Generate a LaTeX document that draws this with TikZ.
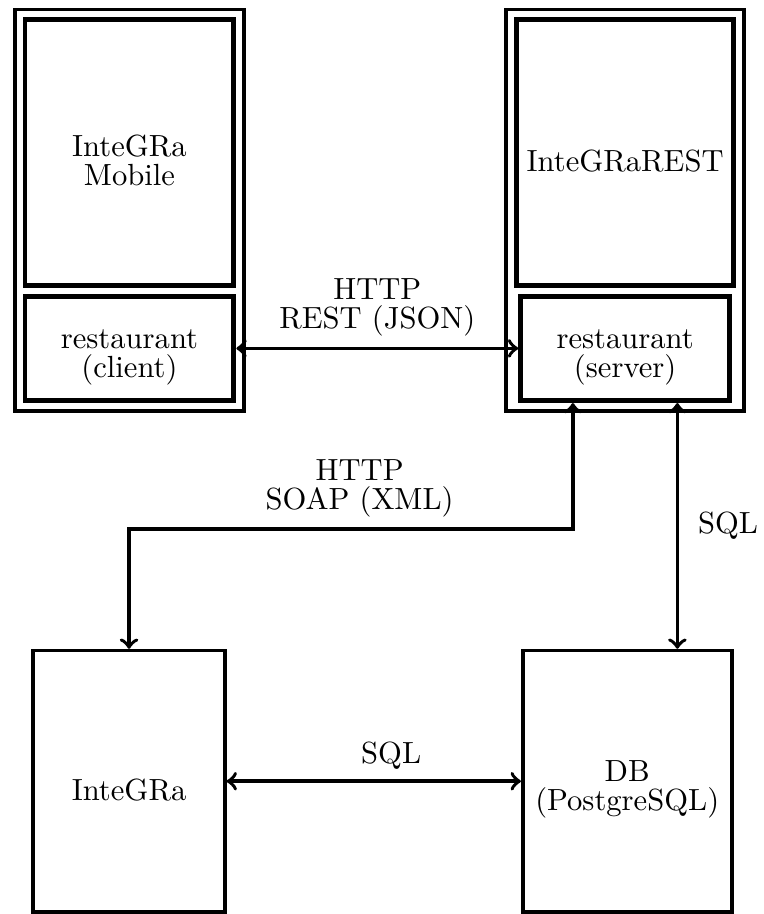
\documentclass[tikz,border=0pt]{standalone}
\usepackage{tikz}
\usetikzlibrary{arrows,positioning,fit}
\tikzset{part/.style={draw, line width=1.6pt, minimum width=2.4cm, align=center, text height=13pt}}
\tikzset{twolines/.style={text height=21.5pt}}
\tikzset{app/.style={draw, line width=1.2pt, inner sep=2.5pt}}
\tikzset{link/.style={<->, line width=1.2pt}}

\begin{document}
\begin{tikzpicture}
                \useasboundingbox (0,0) rectangle (8.764,-10.498);

                % mobile application
                \node[part, twolines, minimum height=3.05cm] (mobile) at (1.487,-1.75) {InteGRa\\[-2.5pt]Mobile};
                \node[part, twolines, minimum height=1.2cm, below=2pt of mobile] (client) {restaurant\\[-2.5pt](client)};
                \node[app, fit=(mobile)(client)] (mobileapp) {};

                % REST server
                \node[part, minimum height=3.05cm] (rest) at (7.18,-1.75) {InteGRaREST};
                \node[part, twolines, minimum height=1.2cm, below=2pt of rest] (server) {restaurant\\[-2.5pt](server)};
                \node[app, fit=(rest)(server)] (restapp) {};

                % InteGRa and the database
                \node[part, line width=1.2pt, minimum width=2.2cm, minimum height=3cm] (integra) at (1.482,-8.973) {InteGRa};
                \node[part, twolines, line width=1.2pt, minimum height=3cm] (db) at (7.204,-8.973) {DB\\[-2.5pt](PostgreSQL)};

                \coordinate (soaptop) at ([xshift=-0.6cm]server.south);
                \coordinate (sqltop) at ([xshift=0.6cm]server.south);

                \draw[link] (client.east) -- node[above, align=center] {HTTP\\[-2.5pt]REST (JSON)} (server.west);
                \draw[link] (soaptop) -- ++(0,-1.45) -| node[pos=0.25, above, xshift=0.1cm, align=center] {HTTP\\[-2.5pt]SOAP (XML)} (integra.north);
                \draw[link] (sqltop) -- (sqltop |- db.north) node[midway, right=1mm] {SQL};
                \draw[link] (integra.east) -- node[above, xshift=0.2cm] {SQL} (db.west);

            \end{tikzpicture}
\end{document}
